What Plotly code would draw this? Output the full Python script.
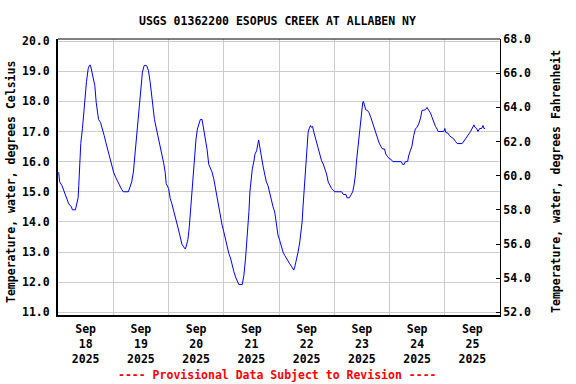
import pandas as pd
import plotly.graph_objects as go

# ---- data ----
start_time = "2025-09-18 00:00"
hours = [0.29, 0.73, 1.75, 2.62, 3.64, 4.66, 5.82, 6.26, 7.57, 8.0, 8.73, 9.02, 9.46, 9.89,
         10.62, 11.2, 11.64, 12.37, 13.1, 13.68, 14.11, 14.55, 15.28, 16.0, 16.59, 17.02,
         17.61, 18.48, 19.21, 20.08, 20.81, 21.83, 22.55, 23.28, 24.15, 25.03, 25.9, 26.92,
         27.65, 28.37, 30.56, 31.28, 32.01, 32.74, 33.17, 33.76, 34.19, 34.92, 35.36, 35.94,
         36.67, 37.39, 37.83, 38.56, 39.29, 40.01, 40.74, 41.18, 41.9, 42.49, 43.36, 44.38,
         45.1, 45.83, 46.56, 47.0, 48.02, 48.74, 49.47, 50.2, 50.93, 51.65, 52.38, 53.11,
         53.84, 54.56, 55.29, 55.73, 56.45, 57.04, 57.62, 58.2, 58.78, 59.36, 59.95, 60.53,
         61.26, 61.84, 62.57, 63.29, 64.02, 64.75, 65.48, 66.2, 66.93, 67.66, 68.39, 69.11,
         69.84, 70.57, 71.3, 72.02, 72.75, 73.48, 74.21, 74.93, 75.66, 76.39, 77.12, 77.84,
         78.57, 80.03, 80.75, 81.48, 81.92, 82.35, 82.94, 83.37, 83.95, 84.39, 85.12, 85.55,
         86.28, 86.72, 87.15, 87.59, 88.32, 89.05, 89.77, 90.5, 91.23, 91.96, 92.68, 93.41,
         94.14, 94.58, 94.84, 95.56, 96.29, 97.02, 97.75, 98.47, 99.2, 99.93, 100.66, 101.38,
         102.11, 102.4, 102.84, 103.57, 104.29, 105.02, 105.46, 106.04, 106.48, 106.91,
         107.35, 107.93, 108.66, 109.1, 109.68, 110.11, 110.55, 111.13, 111.71, 112.3,
         113.02, 113.75, 114.48, 115.21, 115.93, 116.66, 117.39, 118.12, 118.84, 119.57,
         120.3, 123.21, 123.94, 125.1, 125.54, 126.56, 127.28, 128.01, 128.59, 129.17,
         129.76, 130.34, 130.92, 131.5, 131.94, 132.38, 132.67, 133.1, 133.69, 134.41,
         135.14, 135.87, 136.59, 137.32, 138.05, 138.78, 139.5, 140.23, 140.96, 141.83,
         142.41, 143.14, 143.87, 144.6, 145.47, 149.11, 149.69, 150.42, 150.85, 151.87,
         152.31, 153.04, 153.76, 154.49, 155.22, 155.95, 156.67, 157.4, 158.13, 159.58,
         160.31, 161.04, 161.77, 162.49, 163.22, 163.95, 164.68, 165.11, 167.59, 168.02,
         168.46, 169.48, 170.06, 171.22, 171.95, 172.68, 173.41, 175.59, 176.32, 177.04,
         177.77, 178.5, 179.23, 179.95, 180.68, 181.12, 181.85, 182.43, 183.16, 184.03,
         184.61, 185.05, 185.48]
temp_c = [15.65, 15.33, 15.2, 15.0, 14.8, 14.6, 14.5, 14.4, 14.4, 14.6, 14.8, 15.2, 15.75, 16.6,
          17.1, 17.65, 18.15, 18.65, 19.08, 19.2, 19.2, 19.02, 18.85, 18.52, 17.97, 17.75,
          17.4, 17.3, 17.13, 16.86, 16.63, 16.3, 16.08, 15.86, 15.65, 15.48, 15.33, 15.16,
          15.08, 15.0, 15.0, 15.16, 15.33, 15.65, 16.02, 16.41, 16.86, 17.4, 17.9, 18.43,
          18.97, 19.18, 19.2, 19.18, 19.02, 18.65, 18.1, 17.7, 17.4, 17.18, 16.86, 16.58,
          16.25, 15.98, 15.65, 15.27, 15.11, 14.78, 14.6, 14.4, 14.18, 13.95, 13.73, 13.5,
          13.26, 13.17, 13.1, 13.2, 13.42, 13.84, 14.45, 15.0, 15.55, 16.3, 16.75, 17.08,
          17.3, 17.4, 17.4, 17.08, 16.86, 16.41, 15.91, 15.8, 15.65, 15.43, 15.1, 14.78,
          14.5, 14.18, 13.89, 13.67, 13.42, 13.15, 12.95, 12.8, 12.54, 12.35, 12.17, 12.03,
          11.92, 11.92, 12.23, 12.8, 13.22, 13.78, 14.34, 15.0, 15.43, 15.75, 16.02, 16.25,
          16.36, 16.63, 16.72, 16.52, 16.25, 15.86, 15.59, 15.33, 15.2, 14.95, 14.67, 14.5,
          14.33, 14.05, 13.84, 13.56, 13.39, 13.17, 13.0, 12.89, 12.78, 12.69, 12.61, 12.53,
          12.45, 12.4, 12.5, 12.72, 13.0, 13.33, 13.56, 14.0, 14.56, 15.0,
          15.53, 16.2, 16.98, 17.09, 17.2, 17.14, 17.17, 16.98, 16.81, 16.64,
          16.42, 16.2, 16.03, 15.92, 15.75, 15.59, 15.32, 15.2, 15.11, 15.05,
          15.0, 15.0, 14.91, 14.91, 14.8, 14.8, 14.89, 15.0, 15.22, 15.55,
          16.09, 16.52, 16.86, 17.19, 17.63, 17.97, 18.0, 17.86, 17.72, 17.7,
          17.62, 17.47, 17.3, 17.08, 16.92, 16.75, 16.62, 16.51, 16.42, 16.42,
          16.25, 16.17, 16.1, 16.08, 16.0, 16.0, 15.91, 15.91, 16.0, 16.0,
          16.19, 16.36, 16.52, 16.86, 17.08, 17.14, 17.25, 17.42, 17.7, 17.72,
          17.8, 17.7, 17.62, 17.47, 17.3, 17.17, 17.08, 17.0, 17.0, 17.1,
          16.97, 16.94, 16.86, 16.8, 16.75, 16.67, 16.6, 16.6, 16.69, 16.78,
          16.86, 16.92, 17.0, 17.14, 17.22, 17.14, 17.1, 17.0, 17.1, 17.1,
          17.2, 17.1, 17.1]

tick_days = ["2025-09-18 12:00", "2025-09-19 12:00", "2025-09-20 12:00", "2025-09-21 12:00",
             "2025-09-22 12:00", "2025-09-23 12:00", "2025-09-24 12:00", "2025-09-25 12:00"]
tick_text = ["Sep<br>18<br>2025", "Sep<br>19<br>2025", "Sep<br>20<br>2025", "Sep<br>21<br>2025",
             "Sep<br>22<br>2025", "Sep<br>23<br>2025", "Sep<br>24<br>2025", "Sep<br>25<br>2025"]
x_range = ["2025-09-18 00:00", "2025-09-26 00:00"]
c_range = [10.91, 20.07]
f_range = [51.85, 68.0]

title_text = "USGS 01362200 ESOPUS CREEK AT ALLABEN NY"
left_title = "Temperature, water, degrees Celsius"
right_title = "Temperature, water, degrees Fahrenheit"
note_text = "---- Provisional Data Subject to Revision ----"

times = pd.Timestamp(start_time) + pd.to_timedelta(hours, unit="h")

FONT = "DejaVu Sans Mono"
FS = 11.5

fig = go.Figure()
fig.add_trace(go.Scatter(x=times, y=temp_c, mode="lines",
                         line=dict(color="#0000FF", width=1),
                         showlegend=False, hoverinfo="skip"))
fig.add_trace(go.Scatter(x=[], y=[], yaxis="y2", showlegend=False, hoverinfo="skip"))

fig.update_layout(
    width=576, height=384,
    margin=dict(l=58, r=76, t=39, b=69, pad=0, autoexpand=False),
    paper_bgcolor="white", plot_bgcolor="white",
    font=dict(family=FONT, size=FS, color="black", weight="bold"),
    showlegend=False,
    xaxis=dict(
        range=x_range, type="date", automargin=False,
        tickmode="array", tickvals=tick_days, ticktext=tick_text,
        showgrid=False, ticks="", zeroline=False,
        showline=True, linecolor="black", linewidth=2,
        ticklabelstandoff=2,
        tickfont=dict(family=FONT, size=FS, color="black", weight="bold"),
        minor=dict(dtick=86400000, tick0="2025-09-18", showgrid=True,
                   gridcolor="#CCCCCC", gridwidth=1, ticks=""),
    ),
    yaxis=dict(
        range=c_range, dtick=1, tick0=11, tickformat=".1f", automargin=False,
        showgrid=True, gridcolor="#CCCCCC", gridwidth=1, zeroline=False,
        showline=True, linecolor="black", linewidth=2, ticks="",
        ticklabelstandoff=4,
        tickfont=dict(family=FONT, size=FS, color="black", weight="bold"),
    ),
    yaxis2=dict(
        range=f_range, dtick=2, tick0=52, tickformat=".1f", automargin=False,
        overlaying="y", side="right", showgrid=False, zeroline=False,
        showline=True, linecolor="black", linewidth=1,
        ticks="inside", ticklen=4, tickcolor="black", tickwidth=1,
        tickfont=dict(family=FONT, size=FS, color="black", weight="bold"),
    ),
    shapes=[dict(type="line", xref="paper", yref="paper", x0=0, x1=1, y0=1, y1=1,
                 line=dict(color="black", width=1))],
    annotations=[
        dict(text=title_text, xref="paper", yref="paper", x=0.4955, y=1.0652,
             xanchor="center", yanchor="middle", showarrow=False,
             font=dict(family=FONT, size=FS, color="black", weight="bold")),
        dict(text=left_title, xref="paper", yref="paper", x=-0.1063, y=0.482,
             xanchor="center", yanchor="middle", textangle=-90, showarrow=False,
             font=dict(family=FONT, size=FS, color="black", weight="bold")),
        dict(text=right_title, xref="paper", yref="paper", x=1.1267, y=0.482,
             xanchor="center", yanchor="middle", textangle=-90, showarrow=False,
             font=dict(family=FONT, size=FS, color="black", weight="bold")),
        dict(text=note_text, xref="paper", yref="paper", x=0.4955, y=-0.2174,
             xanchor="center", yanchor="middle", showarrow=False,
             font=dict(family=FONT, size=FS, color="#FF0000", weight="bold")),
    ],
)

fig.write_html("out.html",
               config={"displayModeBar": False, "staticPlot": True},
               post_script="document.body.style.margin='0';document.body.style.overflow='hidden';")
